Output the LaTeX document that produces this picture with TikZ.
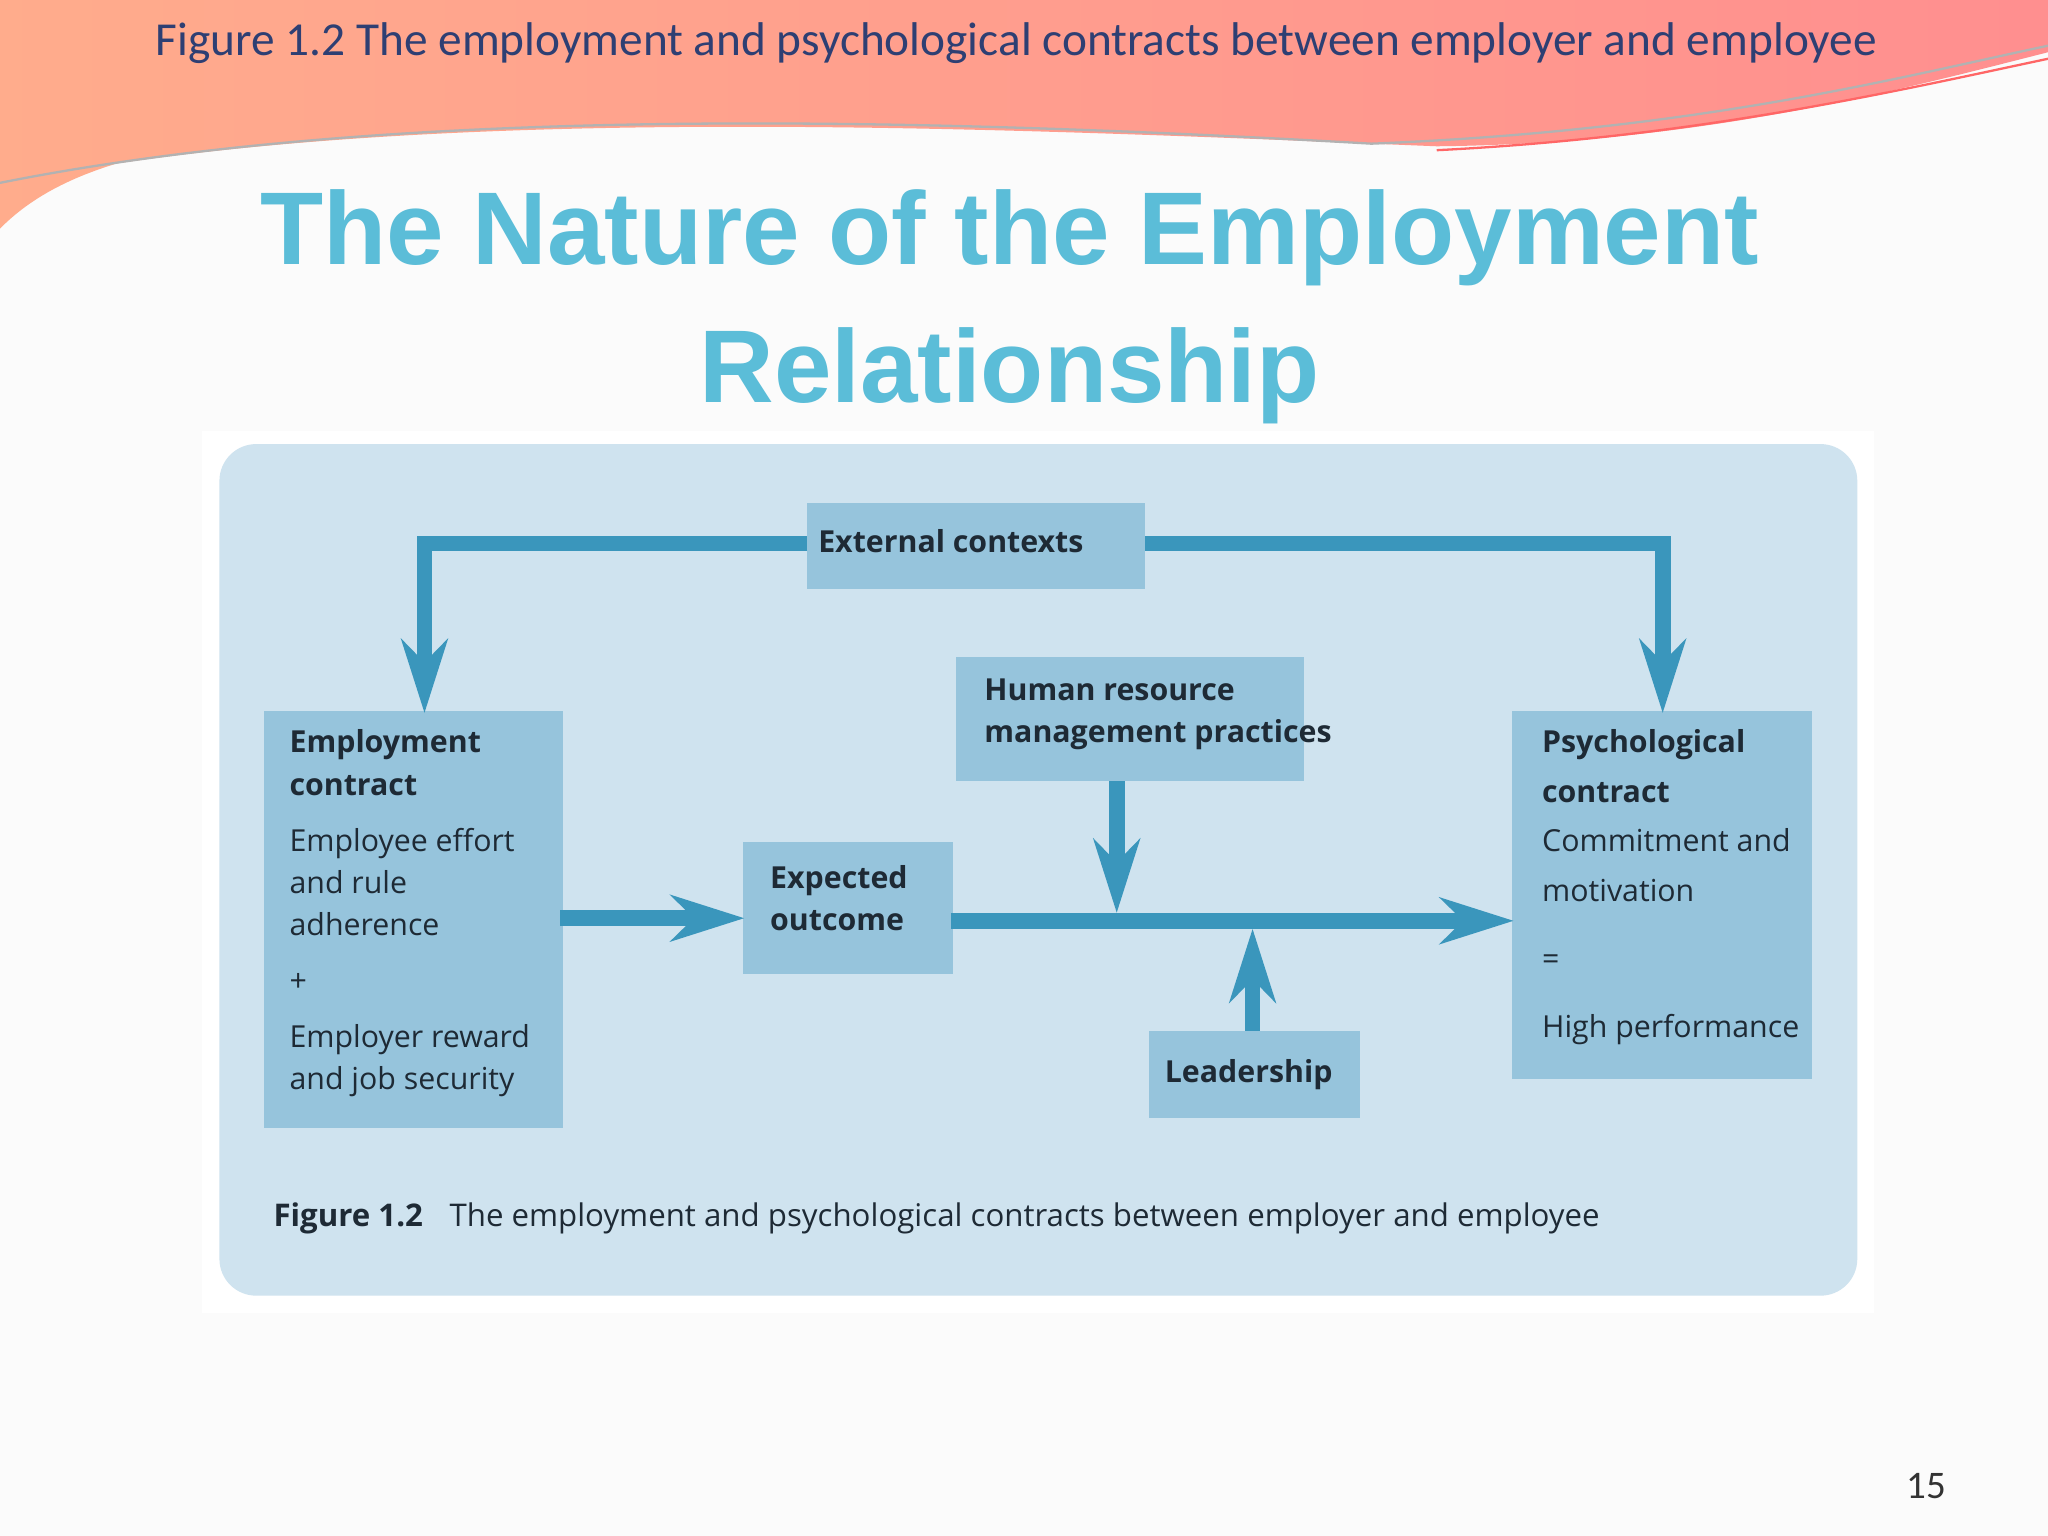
\documentclass[tikz,border=0pt]{standalone}
\usepackage{fontspec}
\setmainfont{Open Sans}
\newfontfamily\titlefont{Liberation Sans}
\newfontfamily\hdrfont{Carlito}
\usetikzlibrary{arrows.meta}
\definecolor{panel}{HTML}{CFE3EF}
\definecolor{boxc}{HTML}{96C4DC}
\definecolor{arr}{HTML}{3A96BC}
\definecolor{ttl}{HTML}{5BBDD8}
\definecolor{hdr}{HTML}{2E3F73}
\definecolor{txt}{HTML}{1E2A35}
\tikzset{
 bx/.style={fill=boxc,draw=none,font=\fontsize{6.6}{9.2}\selectfont,text=txt,align=left,anchor=north west,inner sep=0pt},
 ar/.style={draw=arr,line width=3.4pt,-{Stealth[length=16pt,width=10pt,inset=5pt]}},
 ln/.style={draw=arr,line width=3.4pt}
}
\begin{document}
\begin{tikzpicture}[x=0.01cm,y=-0.01cm]
\useasboundingbox (0,0) rectangle (1568,1176);
\fill[white!97!gray] (0,0) rectangle (1568,1176);
% header wave
\shade[left color=orange!55!red!45, right color=red!40!pink!80] (0,0) -- (1568,0) -- (1568,40)
  .. controls (1450,70) and (1300,110) .. (1100,112)
  .. controls (800,100) and (400,80) .. (90,125)
  .. controls (40,140) and (15,160) .. (0,175) -- cycle;
\draw[gray!60,line width=0.5pt] (0,140) .. controls (300,80) and (700,90) .. (1050,110) .. controls (1300,100) and (1450,60) .. (1568,35);
\draw[red!60,line width=0.5pt] (1100,115) .. controls (1300,105) and (1450,70) .. (1568,45);
\node[text=hdr,font=\hdrfont\fontsize{10.3}{12}\selectfont,anchor=west] (hd) at (107,33) {Figure 1.2 The employment and psychological contracts between employer and employee};
% title
\node[text=ttl,font=\titlefont\bfseries\fontsize{22.5}{30}\selectfont,align=center] (title) at (773,235) {The Nature of the Employment\\Relationship};
% panel
\fill[white] (155,330) rectangle (1435,1005);
\fill[panel,rounded corners=8pt] (168,340) rectangle (1422,992);
% boxes
\fill[boxc] (618,385) rectangle (877,451);
\node[font=\fontsize{6.6}{9}\selectfont\bfseries,text=txt] (ext) at (728,414) {External contexts};
\coordinate (extL) at (618,416); \coordinate (extR) at (877,416);
\fill[boxc] (202,544) rectangle (431,864);
\node[bx,fill=none] (emp) at (221,558) {\textbf{Employment}\\\textbf{contract}\\[3pt]Employee effort\\and rule\\adherence\\[3pt]+\\[3pt]Employer reward\\and job security};
\fill[boxc] (569,645) rectangle (730,746);
\node[bx,fill=none] (exp) at (589,662) {\textbf{Expected}\\\textbf{outcome}};
\fill[boxc] (732,503) rectangle (998,598);
\node[bx,fill=none] (hrm) at (753,519) {\textbf{Human resource}\\\textbf{management practices}};
\fill[boxc] (880,789) rectangle (1041,856);
\node[font=\fontsize{6.6}{9}\selectfont\bfseries,text=txt] (lead) at (956,823) {Leadership};
\fill[boxc] (1158,544) rectangle (1387,826);
\node[bx,fill=none,font=\fontsize{6.6}{10.8}\selectfont] (psy) at (1180,558) {\textbf{Psychological}\\\textbf{contract}\\Commitment and\\motivation\\[4pt]=\\[4pt]High performance};
% connectors
\coordinate (empT) at (325,546); \coordinate (psyT) at (1273,546);
\draw[ar] (extL) -- (325,416) -- (empT);
\draw[ar] (extR) -- (1273,416) -- (psyT);
\coordinate (empR) at (429,703); \coordinate (expL) at (570,703);
\draw[ar] (empR) -- (expL);
\coordinate (expR) at (728,705); \coordinate (psyL) at (1159,705);
\draw[ar] (expR) -- (psyL);
\coordinate (hrmB) at (855,598); \coordinate (j1) at (855,699);
\draw[ar] (hrmB) -- (j1);
\coordinate (leadT) at (959,789); \coordinate (j2) at (959,711);
\draw[ar] (leadT) -- (j2);
% caption
\node[anchor=west,font=\fontsize{6.8}{9}\selectfont,text=txt] (cap) at (197,933) {\textbf{Figure 1.2}\hspace{4pt} The employment and psychological contracts between employer and employee};
\node[font=\hdrfont\fontsize{8.5}{10}\selectfont,text=black!80] (pg) at (1475,1138) {15};
\end{tikzpicture}
\end{document}
